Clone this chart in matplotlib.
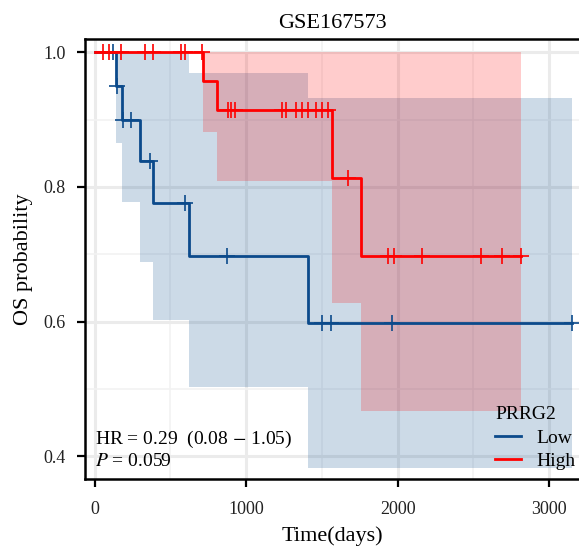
import numpy as np
import matplotlib.pyplot as plt
from matplotlib.lines import Line2D

plt.rcParams['font.family'] = ['Liberation Serif', 'DejaVu Serif']
plt.rcParams['mathtext.fontset'] = 'stix'

# Low group (step times, survival, CI)
low_t = [0, 142, 179, 300, 388, 625, 1410, 3148]
low_s = [1.0, 0.950, 0.900, 0.838, 0.776, 0.698, 0.598, 0.598]
low_up = [1.0, 1.0, 1.0, 1.0, 1.0, 0.970, 0.933, 0.933]
low_lo = [1.0, 0.866, 0.778, 0.689, 0.602, 0.503, 0.383, 0.383]
low_cens = [120, 150, 185, 239, 366, 597, 872, 1503, 1560, 1962, 3148]

# High group
high_t = [0, 718, 810, 1569, 1756, 2811]
high_s = [1.0, 0.958, 0.915, 0.813, 0.697, 0.697]
high_up = [1.0, 1.0, 1.0, 1.0, 1.0, 1.0]
high_lo = [1.0, 0.882, 0.809, 0.627, 0.467, 0.467]
high_cens = [58, 97, 175, 330, 388, 572, 597, 707, 878, 900, 927, 1237, 1263,
             1329, 1369, 1410, 1460, 1500, 1542, 1670, 1938, 1976, 2162, 2551,
             2686, 2811]

blue = '#0B4A8B'
red = '#FF0000'


def surv_at(times, surv, t):
    idx = np.searchsorted(times, t, side='right') - 1
    return np.array(surv)[idx]


fig = plt.figure(figsize=(5.79, 5.49), dpi=100)
ax = fig.add_axes([0.1468, 0.1275, 0.8532, 0.8015])

# grid like ggplot
for x in [0, 1000, 2000, 3000]:
    ax.axvline(x, color='#EBEBEB', lw=2.2, zorder=0)
for x in [500, 1500, 2500]:
    ax.axvline(x, color='#F2F2F2', lw=1.2, zorder=0)
for y in [0.4, 0.6, 0.8, 1.0]:
    ax.axhline(y, color='#EBEBEB', lw=2.2, zorder=0)
for y in [0.5, 0.7, 0.9]:
    ax.axhline(y, color='#F2F2F2', lw=1.2, zorder=0)

# confidence bands
ax.fill_between(low_t, low_lo, low_up, step='post', color='#00468B',
                alpha=0.2, lw=0, zorder=1)
ax.fill_between(high_t, high_lo, high_up, step='post', color=red,
                alpha=0.2, lw=0, zorder=1)

# survival curves
ax.step(low_t, low_s, where='post', color=blue, lw=2, zorder=3)
ax.plot(low_cens, surv_at(low_t, low_s, low_cens), ls='none', marker='+',
        ms=11, mew=1.2, color=blue, zorder=3)
ax.step(high_t, high_s, where='post', color=red, lw=2, zorder=4)
ax.plot(high_cens, surv_at(high_t, high_s, high_cens), ls='none', marker='+',
        ms=11, mew=1.2, color=red, zorder=4)

ax.set_xlim(-63, 3196)
ax.set_ylim(0.366, 1.02)
ax.set_xticks([0, 1000, 2000, 3000])
ax.set_yticks([0.4, 0.6, 0.8, 1.0])
ax.set_yticklabels(['0.4', '0.6', '0.8', '1.0'])
ax.tick_params(axis='both', length=6, width=1.6, labelsize=13,
               labelcolor='#222222')
ax.tick_params(axis='x', pad=10)
ax.tick_params(axis='y', pad=8)

for side in ['left', 'bottom', 'top']:
    ax.spines[side].set_linewidth(1.8)
    ax.spines[side].set_color('black')
ax.spines['right'].set_visible(False)

ax.set_title('GSE167573', fontsize=16, pad=8)
ax.set_xlabel('Time(days)', fontsize=16, labelpad=6)
ax.set_ylabel('OS probability', fontsize=16, labelpad=7)

ax.text(0, 0.425, 'HR = 0.29  (0.08 $-$ 1.05)', fontsize=14, va='center',
        ha='left', zorder=5)
ax.text(0, 0.392, '$\\mathit{P}$ = 0.059', fontsize=14, va='center', ha='left',
        zorder=5)

handles = [Line2D([], [], color=blue, lw=2), Line2D([], [], color=red, lw=2)]
leg = ax.legend(handles, ['Low', 'High'], title='PRRG2', loc='lower right',
                bbox_to_anchor=(1.028, -0.02), frameon=False, fontsize=14,
                title_fontsize=14, handlelength=1.3, handletextpad=0.8,
                labelspacing=0.3)
leg._legend_box.align = 'left'

fig.savefig('out.png', dpi=100)
